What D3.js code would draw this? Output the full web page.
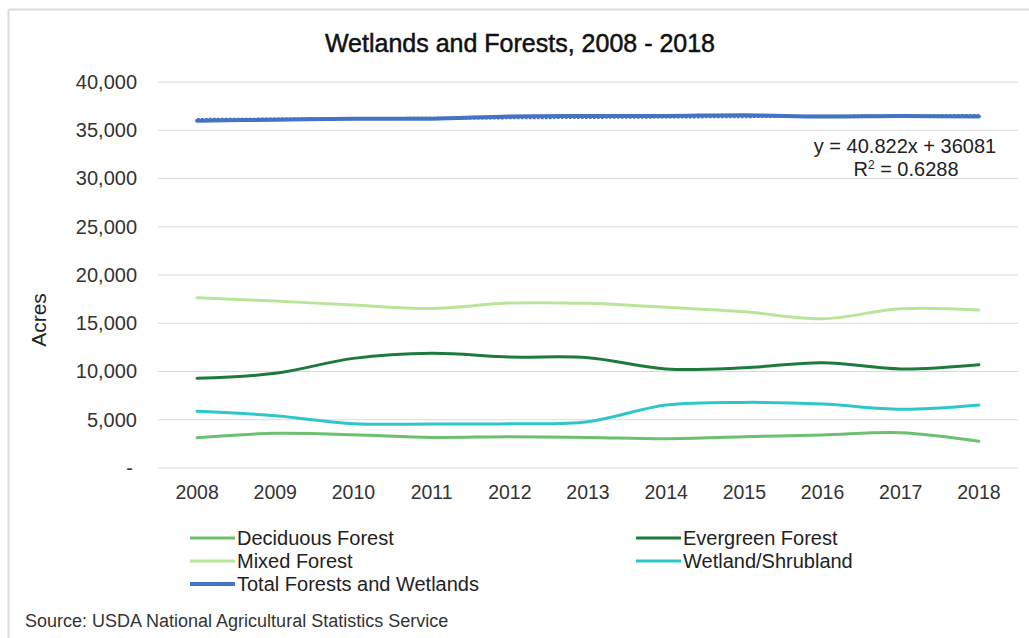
<!DOCTYPE html>
<html>
<head>
<meta charset="utf-8">
<script src="https://cdn.jsdelivr.net/npm/d3@7"></script>
<style>
  html, body { margin: 0; padding: 0; background: #fff; }
  svg { display: block; font-family: "Liberation Sans", Arial, Helvetica, sans-serif; }
</style>
</head>
<body>
<svg id="chart" width="1029" height="638"></svg>
<script>
const years = ["2008","2009","2010","2011","2012","2013","2014","2015","2016","2017","2018"];
const deciduous = [3140, 3590, 3450, 3170, 3240, 3170, 3040, 3240, 3420, 3660, 2770];
const evergreen = [9290, 9810, 11360, 11880, 11500, 11430, 10260, 10390, 10910, 10260, 10700];
const mixed     = [17640, 17300, 16890, 16540, 17090, 17060, 16650, 16200, 15470, 16510, 16370];
const wetland   = [5870, 5420, 4590, 4560, 4590, 4800, 6530, 6800, 6630, 6080, 6530];
const total     = [35990, 36100, 36180, 36200, 36420, 36470, 36480, 36560, 36420, 36470, 36420];
const trendSlope = 40.822, trendIntercept = 36081, trendR2 = 0.6288;
const yTicks = [0, 5000, 10000, 15000, 20000, 25000, 30000, 35000, 40000];

const seriesNames = ["Deciduous Forest", "Evergreen Forest", "Mixed Forest", "Wetland/Shrubland", "Total Forests and Wetlands"];
const seriesData  = [deciduous, evergreen, mixed, wetland, total];
const seriesColors = ["#6cc070", "#1e7a3c", "#b9e59a", "#2fc6c8", "#4472c4"];
const seriesWidths = [3, 3, 3, 3, 4];

const svg = d3.select("#chart");
const W = 1029, H = 638;
const m = {left: 158, right: 1018, top: 82, bottom: 468};

// frame
svg.append("line").attr("x1", 8.5).attr("x2", W).attr("y1", 9.5).attr("y2", 9.5)
  .attr("stroke", "#dcdcdc").attr("stroke-width", 2);
svg.append("line").attr("x1", 8.5).attr("x2", 8.5).attr("y1", 9.5).attr("y2", H)
  .attr("stroke", "#dcdcdc").attr("stroke-width", 2);

const x = d3.scaleBand().domain(years).range([m.left, m.right]);
const xc = d => x(d) + x.bandwidth() / 2;
const y = d3.scaleLinear().domain([0, 40000]).range([m.bottom, m.top]);

// grid
svg.append("g").selectAll("line").data(yTicks).join("line")
  .attr("x1", m.left).attr("x2", m.right)
  .attr("y1", d => y(d)).attr("y2", d => y(d))
  .attr("stroke", "#d9d9d9").attr("stroke-width", 1.2);

// y axis labels
const yAxis = d3.axisLeft(y).tickValues(yTicks).tickSize(0).tickPadding(21)
  .tickFormat(d => d === 0 ? "-" : d3.format(",")(d));
const gy = svg.append("g").attr("transform", `translate(${m.left},0)`).call(yAxis);
gy.select(".domain").remove();
gy.selectAll("text").attr("font-size", 20).attr("fill", "#333").attr("font-family", "Liberation Sans, Arial, sans-serif");
gy.selectAll("text").filter(d => d === 0).attr("dx", -4);

// x axis labels
const xAxis = d3.axisBottom(x).tickSize(0).tickPadding(17);
const gx = svg.append("g").attr("transform", `translate(0,${m.bottom})`).call(xAxis);
gx.select(".domain").remove();
gx.selectAll("text").attr("font-size", 19.5).attr("fill", "#333").attr("font-family", "Liberation Sans, Arial, sans-serif");

// Y title
svg.append("text").attr("transform", `translate(46,320) rotate(-90)`)
  .attr("text-anchor", "middle").attr("font-size", 21).attr("fill", "#222").text("Acres");

// Title
svg.append("text").attr("x", 520).attr("y", 52).attr("text-anchor", "middle")
  .attr("font-size", 25).attr("fill", "#111").attr("stroke", "#111").attr("stroke-width", 0.5)
  .text("Wetlands and Forests, 2008 - 2018");

// lines
const line = d3.line().x((d, i) => xc(years[i])).y(d => y(d)).curve(d3.curveCatmullRom.alpha(0.5));

// trend line (linear)
const trendPts = years.map((yr, i) => trendIntercept + trendSlope * (i + 1));
svg.append("path").datum(trendPts)
  .attr("d", d3.line().x((d, i) => xc(years[i])).y(d => y(d)))
  .attr("fill", "none").attr("stroke", "#4472c4").attr("stroke-width", 3)
  .attr("stroke-dasharray", "2.5,1.5");

seriesData.forEach((s, k) => {
  svg.append("path").datum(s).attr("d", line)
    .attr("fill", "none").attr("stroke", seriesColors[k])
    .attr("stroke-width", seriesWidths[k]).attr("stroke-linecap", "round").attr("stroke-linejoin", "round");
});

// trendline label
svg.append("text").attr("x", 905).attr("y", 153).attr("text-anchor", "middle")
  .attr("font-size", 20).attr("fill", "#222")
  .text(`y = ${trendSlope}x + ${trendIntercept}`);
const r2 = svg.append("text").attr("x", 906).attr("y", 176).attr("text-anchor", "middle")
  .attr("font-size", 20).attr("fill", "#222");
r2.append("tspan").text("R");
r2.append("tspan").attr("font-size", 12).attr("dy", -7).text("2");
r2.append("tspan").attr("dy", 7).text(` = ${trendR2}`);

// legend
const legendPos = [[190, 538], [636, 538], [190, 561], [636, 561], [190, 584]];
seriesNames.forEach((n, k) => {
  const [lx, ly] = legendPos[k];
  svg.append("line").attr("x1", lx).attr("x2", lx + 45).attr("y1", ly).attr("y2", ly)
    .attr("stroke", seriesColors[k]).attr("stroke-width", seriesWidths[k]);
  svg.append("text").attr("x", lx + 47).attr("y", ly + 7).attr("font-size", 20).attr("fill", "#222").text(n);
});

// source
svg.append("text").attr("x", 25).attr("y", 627).attr("font-size", 18).attr("fill", "#333")
  .text("Source: USDA National Agricultural Statistics Service");
</script>
</body>
</html>
